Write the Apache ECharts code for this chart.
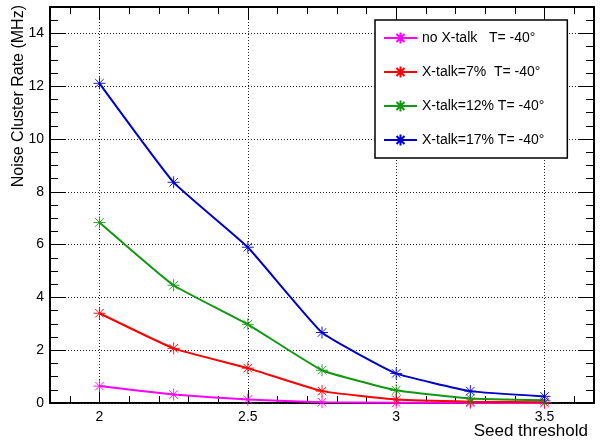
<!DOCTYPE html>
<html><head><meta charset="utf-8">
<script src="https://cdn.jsdelivr.net/npm/echarts@6/dist/echarts.min.js"></script>
<style>html,body{margin:0;padding:0;background:#fff}#c{width:606px;height:447px}</style>
</head><body><div id="c"></div>
<script>
// ---- data ----
const seedThreshold = [2, 2.25, 2.5, 2.75, 3, 3.25, 3.5];
const noXtalk  = [0.64, 0.32, 0.13, 0.03, 0.01, 0.005, 0.0];
const xtalk7   = [3.40, 2.07, 1.32, 0.45, 0.13, 0.05, 0.03];
const xtalk12  = [6.84, 4.46, 2.98, 1.24, 0.48, 0.17, 0.10];
const xtalk17  = [12.11, 8.36, 5.90, 2.67, 1.12, 0.45, 0.25];
const seriesNames = ['no X-talk   T= -40°', 'X-talk=7%  T= -40°', 'X-talk=12% T= -40°', 'X-talk=17% T= -40°'];
const seriesValues = [noXtalk, xtalk7, xtalk12, xtalk17];
const seriesColors = ['#ff00ff', '#ff0000', '#119911', '#0000cc'];
const xMajorTicks = [2, 2.5, 3, 3.5];
const xMinorTicks = [1.9, 2.1, 2.2, 2.3, 2.4, 2.6, 2.7, 2.8, 2.9, 3.1, 3.2, 3.3, 3.4, 3.6];
const yMajorTicks = [0, 2, 4, 6, 8, 10, 12, 14];
const xTitle = 'Seed threshold';
const yTitle = 'Noise Cluster Rate (MHz)';

const FONT = '"Liberation Sans", Arial, Helvetica, sans-serif';
const X_MIN = 1.8333, X_MAX = 3.6667, Y_MIN = 0, Y_MAX = 15;
const STAR = 'path://M0,5L10,5M5,0L5,10M1.46,1.46L8.54,8.54M8.54,1.46L1.46,8.54';

function xAx(pos, ticks, len, withLabels, withGrid) {
  return {
    type: 'value', position: pos, min: X_MIN, max: X_MAX,
    axisLine: { show: false },
    axisTick: { show: true, inside: true, length: len, customValues: ticks, lineStyle: { color: '#000', width: 1 } },
    axisLabel: withLabels ? { show: true, customValues: ticks, color: '#000', fontSize: 14, fontFamily: FONT, margin: 7 } : { show: false },
    splitLine: withGrid ? { show: true, lineStyle: { color: '#222', width: 1, type: [1, 2] } } : { show: false }
  };
}
function yAx(pos, withLabels, withGrid) {
  return {
    type: 'value', position: pos, min: Y_MIN, max: Y_MAX, interval: 2,
    axisLine: { show: false },
    axisTick: { show: true, inside: true, length: 16, customValues: yMajorTicks, lineStyle: { color: '#000', width: 1 } },
    minorTick: { show: true, splitNumber: 4, length: 8, lineStyle: { color: '#000', width: 1 } },
    axisLabel: withLabels ? { show: true, customValues: yMajorTicks, color: '#000', fontSize: 14, fontFamily: FONT, margin: 6 } : { show: false },
    splitLine: withGrid ? { show: true, lineStyle: { color: '#222', width: 1, type: [1, 2] } } : { show: false },
    minorSplitLine: { show: false }
  };
}

const series = seriesNames.map((name, i) => ({
  name: name,
  type: 'line',
  xAxisIndex: 0, yAxisIndex: 0,
  data: seedThreshold.map((x, k) => [x, seriesValues[i][k]]),
  smooth: 0.12,
  symbol: STAR,
  symbolSize: 12,
  showAllSymbol: true,
  lineStyle: { color: seriesColors[i], width: 2 },
  itemStyle: { color: seriesColors[i], borderColor: seriesColors[i], borderWidth: 0.9 },
  emphasis: { disabled: true },
  z: 3 + i
}));

const chart = echarts.init(document.getElementById('c'), null, { renderer: 'canvas' });
chart.setOption({
  animation: false,
  backgroundColor: '#fff',
  grid: { left: 50, right: 12, top: 7, bottom: 44, show: true, borderColor: '#000', borderWidth: 2, backgroundColor: '#fff', containLabel: false },
  xAxis: [
    xAx('bottom', xMajorTicks, 13, true, true),
    xAx('bottom', xMinorTicks, 7, false, false),
    xAx('top', xMajorTicks, 13, false, false),
    xAx('top', xMinorTicks, 7, false, false)
  ],
  yAxis: [
    yAx('left', true, true),
    yAx('right', false, false)
  ],
  legend: {
    data: seriesNames,
    orient: 'vertical',
    left: 375, top: 20,
    padding: [11, 23, 11, 8],
    itemWidth: 33, itemHeight: 14, itemGap: 20,
    backgroundColor: '#fff',
    borderColor: '#000', borderWidth: 1.5,
    textStyle: { color: '#000', fontSize: 14, fontFamily: FONT, lineHeight: 14 },
    selectedMode: false
  },
  graphic: [
    { type: 'text', x: 19, y: 5, rotation: Math.PI / 2, z: 100,
      style: { text: yTitle, fill: '#000', font: '16px ' + FONT, textAlign: 'right', textVerticalAlign: 'middle' } },
    { type: 'text', x: 588, y: 431, z: 100,
      style: { text: xTitle, fill: '#000', font: '17px ' + FONT, textAlign: 'right', textVerticalAlign: 'middle' } }
  ],
  series: series
});
</script>
</body></html>
